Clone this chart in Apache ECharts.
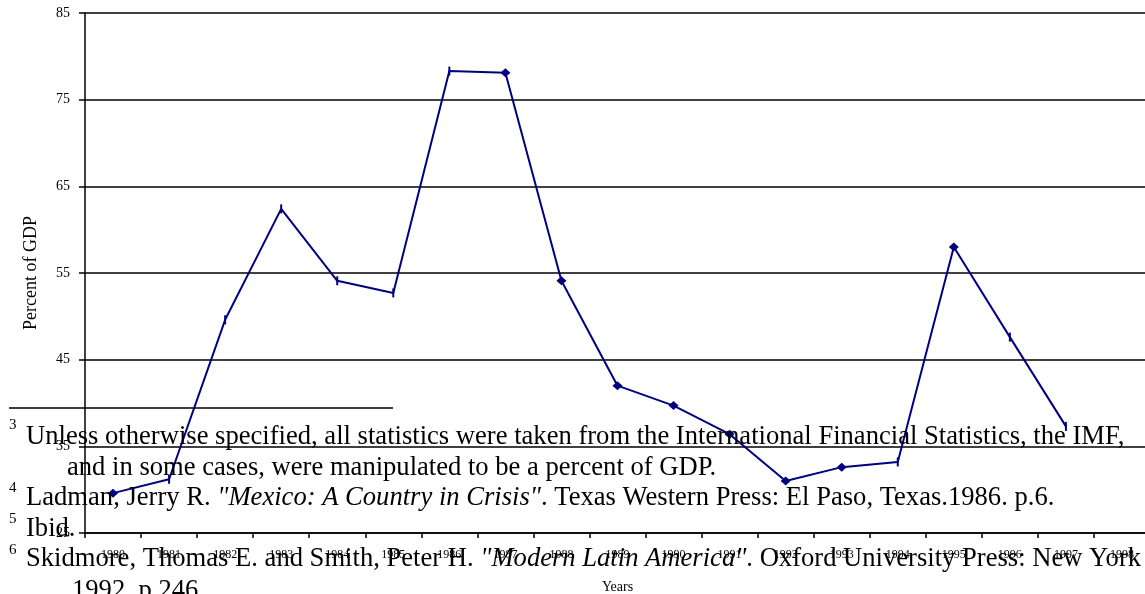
<!DOCTYPE html>
<html>
<head>
<meta charset="utf-8">
<script src="https://cdn.jsdelivr.net/npm/echarts@6/dist/echarts.min.js"></script>
<style>
html,body{margin:0;padding:0;background:#fff;}
#chart{width:1145px;height:594px;}
</style>
</head>
<body>
<div id="chart"></div>
<script>
const years = ['1980','1981','1982','1983','1984','1985','1986','1987','1988','1989','1990','1991','1992','1993','1994','1995','1996','1997','1998'];
const percentOfGDP = [29.6, 31.2, 49.6, 62.4, 54.1, 52.7, 78.3, 78.1, 54.1, 42.0, 39.7, 36.4, 31.0, 32.6, 33.2, 58.0, 47.6, 37.3, null];
const yTicks = {min: 25, max: 85, interval: 10};
const tickMarkYears = ['1981','1982','1983','1984','1985','1986','1994','1996','1997'];

const serif = '"Liberation Serif", "Times New Roman", serif';
const footSize = 26.6;
const supSize = 15;

function txt(x, y, text, size, rich) {
  const style = {text: text, fontSize: size, fontFamily: serif, fill: '#000', verticalAlign: 'middle', align: 'left'};
  if (rich) {
    style.rich = {
      i: {fontStyle: 'italic', fontSize: size, fontFamily: serif, fill: '#000'},
      n: {fontSize: size, fontFamily: serif, fill: '#000'}
    };
  }
  return {type: 'text', x: x, y: y, z: 100, style: style};
}

const chart = echarts.init(document.getElementById('chart'), null, {renderer: 'canvas'});
chart.setOption({
  animation: false,
  backgroundColor: '#fff',
  grid: {left: 85, right: -5, top: 13, bottom: 61, containLabel: false, outerBoundsMode: 'none'},
  xAxis: {
    type: 'category',
    data: years,
    boundaryGap: true,
    name: 'Years',
    nameLocation: 'middle',
    nameGap: 47,
    nameTextStyle: {fontFamily: serif, fontSize: 14, color: '#000'},
    axisLine: {lineStyle: {color: '#000', width: 1.5}},
    axisTick: {show: true, length: 5, lineStyle: {color: '#000', width: 1.5}},
    axisLabel: {interval: 0, fontFamily: serif, fontSize: 12, color: '#000', margin: 16},
    splitLine: {show: false}
  },
  yAxis: {
    type: 'value',
    min: yTicks.min,
    max: yTicks.max,
    interval: yTicks.interval,
    name: 'Percent of GDP',
    nameLocation: 'middle',
    nameRotate: 90,
    nameGap: 45,
    nameTextStyle: {fontFamily: serif, fontSize: 18, color: '#000'},
    axisLine: {show: true, lineStyle: {color: '#000', width: 1.5}},
    axisTick: {show: true, length: 6, lineStyle: {color: '#000', width: 1.5}},
    axisLabel: {fontFamily: serif, fontSize: 14, color: '#000', margin: 15},
    splitLine: {show: true, lineStyle: {color: '#000', width: 1.5}}
  },
  series: [{
    type: 'line',
    data: percentOfGDP.map((v, i) => ({
      value: v,
      symbol: tickMarkYears.indexOf(years[i]) >= 0 ? 'rect' : 'diamond',
      symbolSize: tickMarkYears.indexOf(years[i]) >= 0 ? [2, 9] : [10, 9]
    })),
    connectNulls: false,
    lineStyle: {color: '#000080', width: 2},
    itemStyle: {color: '#000080'},
    showAllSymbol: true,
    z: 5
  }],
  graphic: [
    {type: 'line', z: 100, shape: {x1: 9, y1: 408, x2: 393, y2: 408}, style: {stroke: '#000', lineWidth: 1.5}},
    txt(9, 425, '3', supSize),
    txt(26, 437, 'Unless otherwise specified, all statistics were taken from the International Financial Statistics, the IMF,', footSize),
    txt(67, 468, 'and in some cases, were manipulated to be a percent of GDP.', footSize),
    txt(9, 488, '4', supSize),
    txt(26, 498, '{n|Ladman, Jerry R. }{i|"Mexico: A Country in Crisis"}{n|. Texas Western Press: El Paso, Texas.1986. p.6.}', footSize, true),
    txt(9, 519, '5', supSize),
    txt(26, 529, 'Ibid.', footSize),
    txt(9, 550, '6', supSize),
    txt(26, 559, '{n|Skidmore, Thomas E. and Smith, Peter H. }{i|"Modern Latin America"}{n|. Oxford University Press: New York}', footSize, true),
    txt(72, 591, '1992. p.246.', footSize)
  ]
});
</script>
</body>
</html>
